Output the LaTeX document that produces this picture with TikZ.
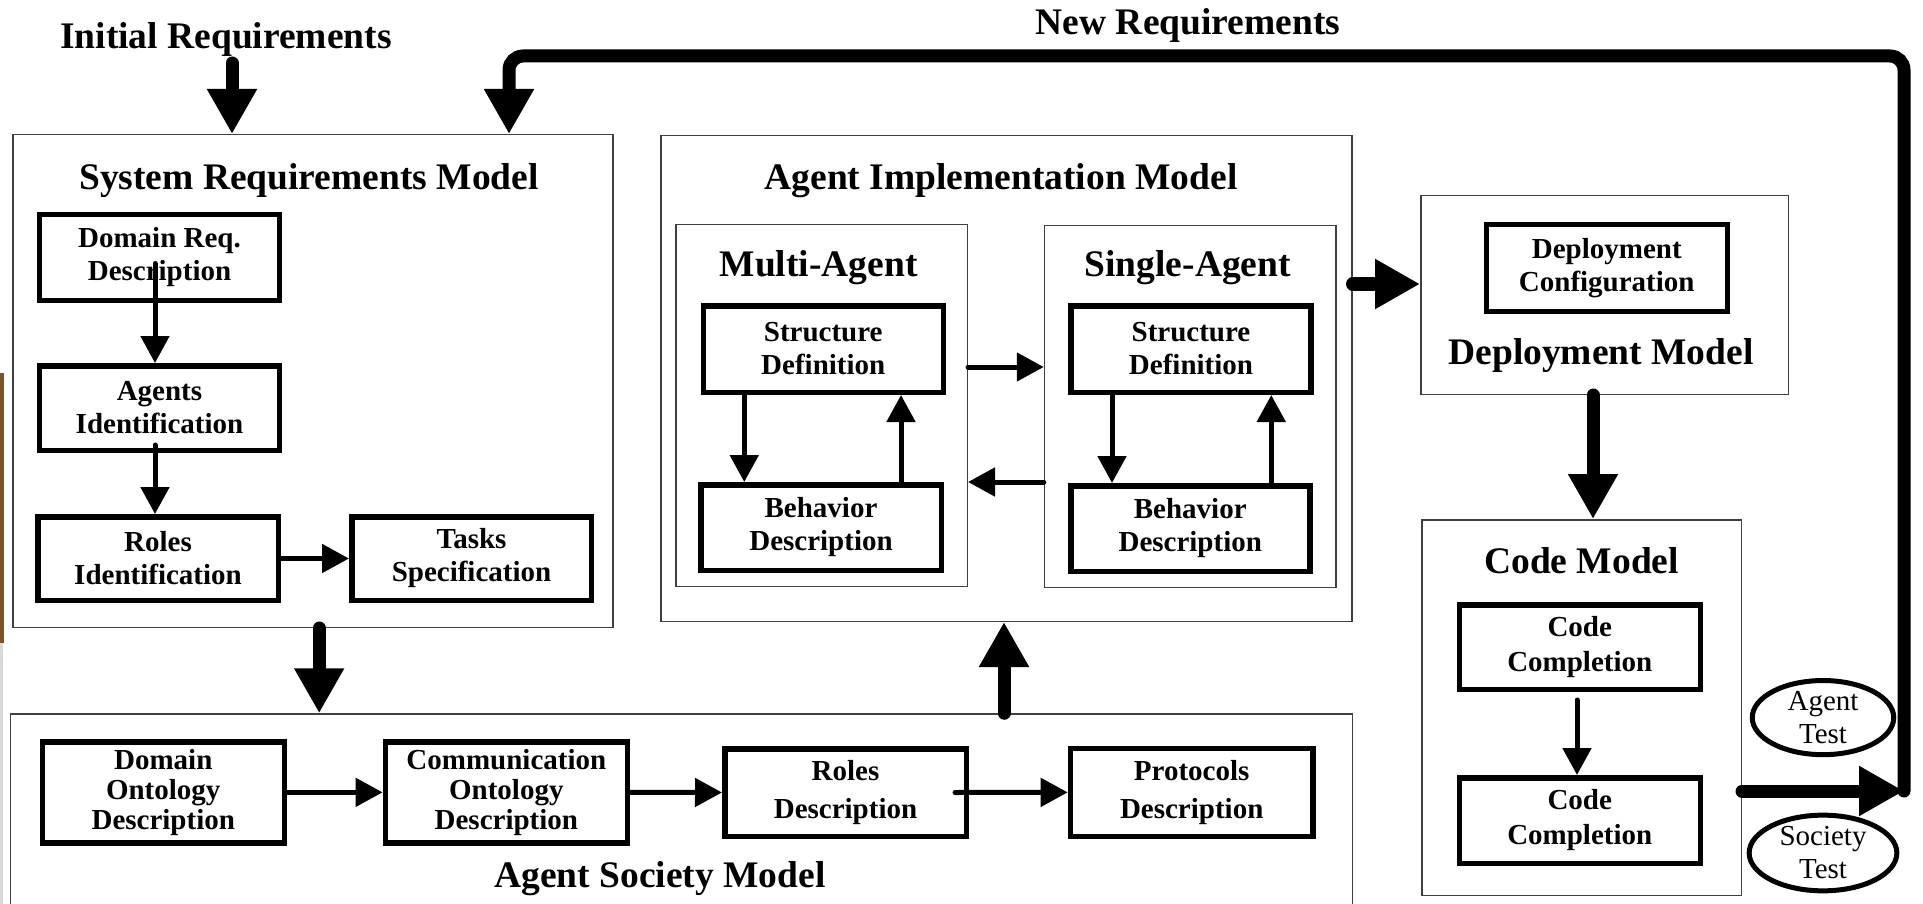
\documentclass[tikz,border=0pt]{standalone}
\usepackage{fontspec}
\setmainfont{Liberation Serif}
\usetikzlibrary{arrows.meta,shapes.geometric}

\begin{document}
\begin{tikzpicture}[x=1pt,y=-1pt,
  modelbox/.style={draw=black!75, line width=1.5pt, rectangle, inner sep=0pt},
  stepbox/.style={draw=black, line width=5.5pt, rectangle, inner sep=0pt, align=center,
    font=\fontsize{29pt}{33pt}\selectfont\bfseries},
  headline/.style={inner sep=0pt, anchor=base, font=\fontsize{37.5pt}{40pt}\selectfont\bfseries},
  testoval/.style={draw=black, ellipse, line width=5pt, inner sep=0pt, align=center,
    font=\fontsize{29pt}{33pt}\selectfont},
  sarrow/.style={line width=5pt, line cap=round, -{Triangle[width=28pt,length=27pt]}},
  barrow/.style={line width=13pt, line cap=round, -{Triangle[width=47pt,length=45pt]}},
]
\useasboundingbox (0,0) rectangle (1923,904);
\fill[white] (0,0) rectangle (1923,904);
\clip (0,0) rectangle (1923,904);

% scrap of a neighbouring photo on the left border
\fill[brown!65!black] (0,373) rectangle (4,643);
\fill[black!15] (0,643) rectangle (3,904);

% ---------- model frames ----------
\node[modelbox, minimum width=600pt, minimum height=492.5pt] (srm) at (313.2,381) {};
\node[modelbox, minimum width=691pt, minimum height=485.5pt] (aim) at (1006.25,378.5) {};
\node[modelbox, minimum width=291.5pt, minimum height=361.5pt] (multi) at (821.5,405.5) {};
\node[modelbox, minimum width=291.5pt, minimum height=361.5pt] (single) at (1190.25,406.5) {};
\node[modelbox, minimum width=367.5pt, minimum height=198.5pt] (depl) at (1604.5,295) {};
\node[modelbox, minimum width=319.5pt, minimum height=375.5pt] (code) at (1581.5,707.5) {};
\node[modelbox, minimum width=1342pt, minimum height=260pt] (asm) at (681.3,844) {};

% ---------- headings ----------
\node[headline] (initxt) at (226,49) {Initial Requirements};
\node[headline] (newtxt) at (1188,35) {New Requirements};
\node[headline] (srmtxt) at (309,190) {System Requirements Model};
\node[headline] (aimtxt) at (1001,190) {Agent Implementation Model};
\node[headline] (matxt) at (818.6,276.7) {Multi-Agent};
\node[headline] (satxt) at (1187.7,276.7) {Single-Agent};
\node[headline] (dmtxt) at (1601,364) {Deployment Model};
\node[headline] (cmtxt) at (1581.6,573.5) {Code Model};
\node[headline] (asmtxt) at (660,887) {Agent Society Model};

% ---------- system requirements steps ----------
\node[stepbox, minimum width=240pt, minimum height=85.5pt] (dreq) at (159.5,257.5) {Domain Req.\\Description};
\node[stepbox, minimum width=240pt, minimum height=84.5pt] (agid) at (159.5,408) {Agents\\Identification};
\node[stepbox, minimum width=240.5pt, minimum height=83.5pt] (roid) at (158,558.5) {Roles\\Identification};
\node[stepbox, minimum width=239.5pt, minimum height=83.5pt] (task) at (471.5,558.5) {Tasks\\Specification};

% ---------- agent implementation steps ----------
\node[stepbox, minimum width=240pt, minimum height=86.5pt] (msd) at (823.25,349) {Structure\\Definition};
\node[stepbox, minimum width=240.5pt, minimum height=85.5pt] (mbd) at (821,527.5) {Behavior\\Description};
\node[stepbox, minimum width=240pt, minimum height=86.5pt] (ssd) at (1191,349) {Structure\\Definition};
\node[stepbox, minimum width=239pt, minimum height=85.5pt] (sbd) at (1190.25,528.5) {Behavior\\Description};

% ---------- deployment and code steps ----------
\node[stepbox, minimum width=241pt, minimum height=86.5pt] (dconf) at (1606.75,268) {Deployment\\Configuration};
\node[stepbox, minimum width=241pt, minimum height=84.5pt, font=\fontsize{29pt}{35pt}\selectfont\bfseries] (cc1) at (1579.75,647) {Code\\Completion};
\node[stepbox, minimum width=241pt, minimum height=85.5pt, font=\fontsize{29pt}{35pt}\selectfont\bfseries] (cc2) at (1579.75,820.5) {Code\\Completion};

% ---------- agent society steps ----------
\node[stepbox, minimum width=242pt, minimum height=101pt, font=\fontsize{29pt}{30pt}\selectfont\bfseries] (dod) at (163.25,792.35) {Domain\\Ontology\\Description};
\node[stepbox, minimum width=242pt, minimum height=101pt, font=\fontsize{29pt}{30pt}\selectfont\bfseries] (cod) at (506.35,792.35) {Communication\\Ontology\\Description};
\node[stepbox, minimum width=241.5pt, minimum height=87.5pt, font=\fontsize{29pt}{38pt}\selectfont\bfseries] (rd) at (845.5,792.5) {Roles\\Description};
\node[stepbox, minimum width=242.5pt, minimum height=87.8pt, font=\fontsize{29pt}{38pt}\selectfont\bfseries] (pd) at (1191.7,792.35) {Protocols\\Description};

% ---------- test ovals ----------
\node[testoval, minimum width=141.5pt, minimum height=71pt] (agt) at (1823,717.6) {Agent\\Test};
\node[testoval, minimum width=147.7pt, minimum height=75.7pt] (soc) at (1823,853) {Society\\Test};

% ---------- connectors inside the models ----------
\draw[sarrow] ([xshift=-4.5pt,yshift=-6pt]dreq.center) -- ([xshift=-4.5pt]agid.north);
\draw[sarrow] ([xshift=-4.5pt,yshift=8pt]agid.south) -- ([xshift=-4.5pt]agid.south |- roid.north);
\draw[sarrow] (roid.east) -- (task.west);

\draw[sarrow] ([xshift=-79pt]msd.south) -- ([xshift=-79pt]msd.south |- mbd.north);
\draw[sarrow] ([xshift=80pt]mbd.north) -- ([xshift=80pt]mbd.north |- msd.south);
\draw[sarrow] ([xshift=-79pt]ssd.south) -- ([xshift=-79pt]ssd.south |- sbd.north);
\draw[sarrow] ([xshift=81pt]sbd.north) -- ([xshift=81pt]sbd.north |- ssd.south);
\draw[sarrow] ([yshift=38.5pt]multi.east) -- ([yshift=38.5pt]multi.east -| single.west);
\draw[sarrow] ([yshift=-75.5pt]single.west) -- ([yshift=-75.5pt]single.west -| multi.east);

\draw[sarrow] ([xshift=-2.75pt,yshift=-8pt]cc1.south) -- ([xshift=-2.75pt]cc1.south |- cc2.north);

\draw[sarrow] (dod.east) -- (cod.west);
\draw[sarrow] (cod.east) -- (rd.west);
\draw[sarrow] ([xshift=-14pt]rd.east) -- (pd.west);

% ---------- flow between the models ----------
\coordinate (ini) at (232,63);
\draw[barrow] (ini) -- (ini |- srm.north);
\draw[barrow] ([xshift=6pt]srm.south) -- ([xshift=6pt]srm.south |- asm.north);
\draw[barrow] ([xshift=-2.25pt]aim.south |- asm.north) -- ([xshift=-2.25pt]aim.south);
\draw[barrow] ([yshift=11pt]depl.west -| aim.east) -- ([yshift=11pt]depl.west);
\draw[barrow] ([xshift=-11.5pt]depl.south) -- ([xshift=-11.5pt]depl.south |- code.north);

% test results feed back as new requirements
\coordinate (ret) at (1904,791);
\coordinate (nr) at (509,56);
\draw[barrow] ([yshift=-83.5pt]code.east) -- (ret);
\draw[barrow, rounded corners=14pt] (ret) |- (nr) -- (nr |- srm.north);
\end{tikzpicture}
\end{document}
